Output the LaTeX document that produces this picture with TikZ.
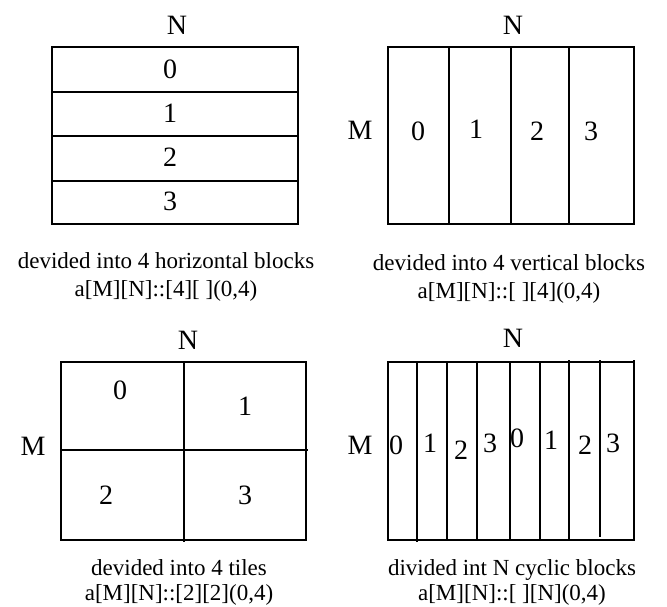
\documentclass[tikz,border=0pt]{standalone}
\usepackage{fontspec}
\setmainfont{Liberation Serif}
\begin{document}
\begin{tikzpicture}[x=1pt,y=-1pt,
  grid/.style={line width=1.7pt,black},
  lbl/.style={font=\fontsize{28}{28}\selectfont,inner sep=0pt,anchor=center},
  captxt/.style={font=\fontsize{23}{27}\selectfont,inner sep=0pt,anchor=base}]
\useasboundingbox (0,0) rectangle (667,606);

% ---- horizontal blocks ----
\draw[grid] (52,47) rectangle (298,224);
\draw[grid] (52,92) -- (298,92) (52,136) -- (298,136) (52,181) -- (298,181);
\node[lbl] (hN) at (177,25) {N};
\node[lbl] (h0) at (170,69) {0};
\node[lbl] (h1) at (170,113) {1};
\node[lbl] (h2) at (170,157) {2};
\node[lbl] (h3) at (170,201) {3};
\node[captxt] (hcapa) at (166,268) {devided into 4 horizontal blocks};
\node[captxt] (hcapb) at (166,296) {a[M][N]::[4][ ](0,4)};

% ---- vertical blocks ----
\draw[grid] (388,47) rectangle (634,224);
\draw[grid] (449,47) -- (449,224) (511,47) -- (511,224) (569,47) -- (569,224);
\node[lbl] (vN) at (513,25) {N};
\node[lbl] (vM) at (360,130) {M};
\node[lbl] (v0) at (418,131) {0};
\node[lbl] (v1) at (476,129) {1};
\node[lbl] (v2) at (537,131) {2};
\node[lbl] (v3) at (591,131) {3};
\node[captxt] (vcapa) at (509,270) {devided into 4 vertical blocks};
\node[captxt] (vcapb) at (509,298) {a[M][N]::[ ][4](0,4)};

% ---- tiles ----
\draw[grid] (61,362) rectangle (306,540);
\draw[grid] (184,362) -- (184,542) (61,450) -- (308,450);
\node[lbl] (tN) at (188,340) {N};
\node[lbl] (tM) at (33,446) {M};
\node[lbl] (t0) at (120,390) {0};
\node[lbl] (t1) at (245,406) {1};
\node[lbl] (t2) at (106,495) {2};
\node[lbl] (t3) at (245,495) {3};
\node[captxt] (tcapa) at (179,575) {devided into 4 tiles};
\node[captxt] (tcapb) at (179,600) {a[M][N]::[2][2](0,4)};

% ---- cyclic blocks ----
\draw[grid] (388,362) rectangle (634,540);
\draw[grid] (634,360) -- (634,362);
\draw[grid] (417,362) -- (417,542) (447,362) -- (447,540) (477,362) -- (477,540)
  (510,362) -- (510,540) (540,362) -- (540,540) (569,360) -- (569,540) (600,360) -- (600,537);
\node[lbl] (cN) at (513,338) {N};
\node[lbl] (cM) at (360,445) {M};
\node[lbl] (c0) at (396,445) {0};
\node[lbl] (c1) at (430,443) {1};
\node[lbl] (c2) at (461,450) {2};
\node[lbl] (c3) at (490,443) {3};
\node[lbl] (c4) at (517,438) {0};
\node[lbl] (c5) at (551,440) {1};
\node[lbl] (c6) at (585,445) {2};
\node[lbl] (c7) at (613,443) {3};
\node[captxt] (ccapa) at (512,575) {divided int N cyclic blocks};
\node[captxt] (ccapb) at (512,600) {a[M][N]::[ ][N](0,4)};
\end{tikzpicture}
\end{document}
